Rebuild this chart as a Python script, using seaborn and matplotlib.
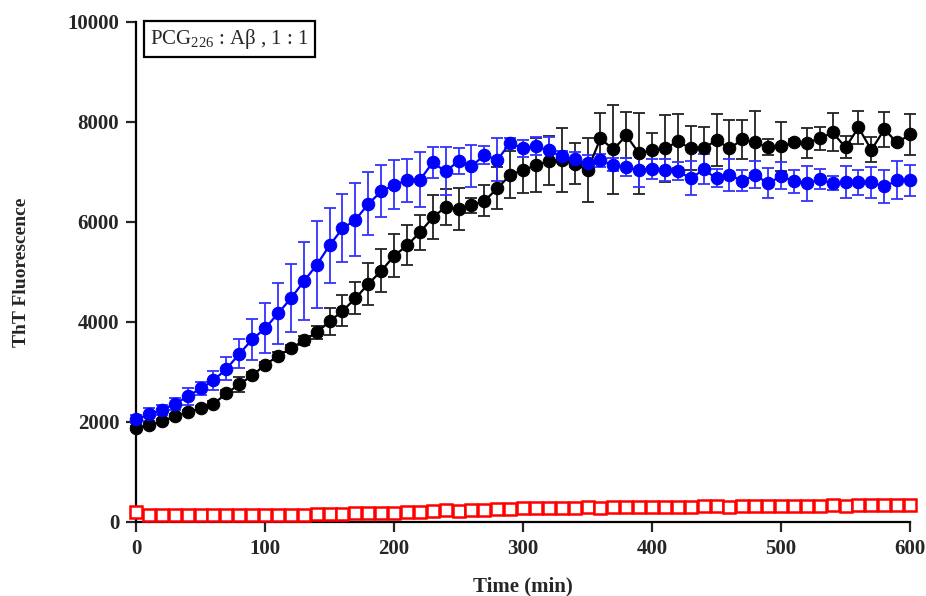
import numpy as np
import matplotlib
matplotlib.use('Agg')
import matplotlib.pyplot as plt
import seaborn as sns

# Tiempo (min)
time = [0, 10, 20, 30, 40, 50, 60, 70, 80, 90, 100, 110, 120, 130, 140, 150, 160, 170, 180, 190,
        200, 210, 220, 230, 240, 250, 260, 270, 280, 290, 300, 310, 320, 330, 340, 350, 360, 370, 380, 390,
        400, 410, 420, 430, 440, 450, 460, 470, 480, 490, 500, 510, 520, 530, 540, 550, 560, 570, 580, 590, 600]

# serie negra (media, desviacion)
black_mean = [1880, 1930, 2010, 2110, 2190, 2270, 2360, 2570, 2750, 2930, 3140, 3320, 3470, 3630, 3790, 4010, 4220, 4470, 4760, 5020,
              5320, 5530, 5790, 6090, 6300, 6250, 6330, 6420, 6670, 6940, 7040, 7130, 7220, 7230, 7160, 7040, 7670, 7450, 7730, 7370,
              7440, 7470, 7610, 7470, 7470, 7640, 7470, 7650, 7590, 7490, 7510, 7590, 7580, 7670, 7790, 7490, 7890, 7440, 7850, 7590, 7750]
black_sd = [40, 40, 40, 40, 40, 40, 50, 70, 150, 60, 60, 80, 70, 90, 130, 270, 310, 320, 420, 430,
            430, 400, 350, 440, 360, 420, 150, 310, 420, 470, 470, 540, 490, 640, 410, 640, 500, 890, 460, 810,
            340, 670, 540, 440, 430, 520, 570, 390, 620, 160, 490, 60, 300, 230, 380, 220, 330, 250, 350, 60, 410]

# serie azul
blue_mean = [2050, 2150, 2240, 2360, 2510, 2670, 2830, 3060, 3360, 3650, 3870, 4170, 4470, 4810, 5140, 5530, 5870, 6040, 6360, 6610,
             6740, 6830, 6840, 7190, 7010, 7220, 7110, 7340, 7240, 7580, 7470, 7510, 7430, 7310, 7250, 7170, 7230, 7140, 7090, 7040,
             7050, 7040, 7020, 6870, 7050, 6870, 6940, 6820, 6940, 6770, 6920, 6810, 6770, 6850, 6770, 6790, 6790, 6790, 6710, 6830, 6830]
blue_sd = [80, 130, 100, 120, 170, 130, 190, 230, 290, 410, 500, 610, 680, 780, 870, 750, 680, 730, 630, 520,
           490, 430, 550, 310, 480, 260, 420, 180, 430, 100, 170, 180, 260, 110, 150, 170, 130, 130, 180, 340,
           200, 220, 180, 340, 300, 180, 320, 210, 270, 300, 270, 230, 350, 200, 140, 320, 250, 310, 330, 380, 310]

# serie roja (cuadrados abiertos)
red_mean = [190, 140, 140, 140, 140, 140, 140, 140, 140, 140, 140, 140, 140, 147, 153, 160, 167, 173, 180, 187,
            187, 207, 207, 227, 233, 227, 247, 247, 253, 267, 273, 273, 280, 280, 280, 307, 287, 300, 300, 300,
            293, 300, 307, 300, 313, 313, 300, 313, 320, 313, 320, 320, 327, 327, 333, 327, 333, 340, 340, 333, 340]

sns.set_style('ticks')
plt.rcParams['font.family'] = ['Liberation Serif', 'DejaVu Serif']
plt.rcParams['mathtext.fontset'] = 'custom'
plt.rcParams['mathtext.rm'] = 'Liberation Serif'
plt.rcParams['mathtext.default'] = 'regular'

fig = plt.figure(figsize=(9.26, 5.96), dpi=100)
ax = fig.add_axes([0.1469, 0.1242, 0.8359, 0.8389])

# barras de error
ax.errorbar(time, black_mean, yerr=black_sd, fmt='none', ecolor='#222222', elinewidth=1.3,
            capsize=4, capthick=1.3, clip_on=False, zorder=2)
ax.errorbar(time, blue_mean, yerr=blue_sd, fmt='none', ecolor='#3333ff', elinewidth=1.3,
            capsize=4, capthick=1.3, clip_on=False, zorder=3)

sns.lineplot(x=time, y=black_mean, color='black', marker='o', markersize=9, linewidth=1.6,
             markeredgecolor='black', ax=ax, zorder=4)
sns.lineplot(x=time, y=blue_mean, color='#0000ff', marker='o', markersize=9, linewidth=1.6,
             markeredgecolor='#0000ff', ax=ax, zorder=5)
sns.lineplot(x=time, y=red_mean, color='#ff0000', marker='s', markersize=8, linewidth=1.2,
             markerfacecolor='white', markeredgecolor='#ff0000', markeredgewidth=1.8, ax=ax, zorder=6)

for line in ax.lines:
    line.set_clip_on(False)

ax.set_xlim(0, 600)
ax.set_ylim(0, 10000)
ax.set_xticks([0, 100, 200, 300, 400, 500, 600])
ax.set_yticks([0, 2000, 4000, 6000, 8000, 10000])
ax.tick_params(axis='both', direction='out', length=7, width=1.6, labelsize=15, pad=5)
for lab in ax.get_xticklabels() + ax.get_yticklabels():
    lab.set_fontweight('bold')

sns.despine(ax=ax)
for s in ['left', 'bottom']:
    ax.spines[s].set_linewidth(1.6)
    ax.spines[s].set_color('black')

ax.set_xlabel('Time (min)', fontsize=15, fontweight='bold', labelpad=13)
ax.set_ylabel('ThT Fluorescence', fontsize=14, fontweight='bold', labelpad=27)

ax.text(0.018, 0.99, 'PCG$_{226}$ : A\u03b2 , 1 : 1', transform=ax.transAxes, fontsize=15,
        ha='left', va='top', bbox=dict(boxstyle='square,pad=0.3', facecolor='white',
                                       edgecolor='black', linewidth=1.6))

fig.savefig('out.png', dpi=100)
